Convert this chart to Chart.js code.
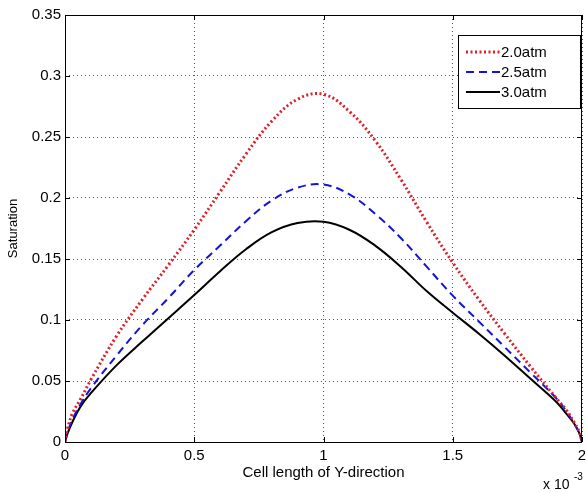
<!DOCTYPE html>
<html>
<head>
<meta charset="utf-8">
<script src="https://cdn.jsdelivr.net/npm/chart.js@4"></script>
<style>
  html, body { margin: 0; padding: 0; background: #fff; }
  #wrap { width: 586px; height: 493px; }
</style>
</head>
<body>
<div id="wrap"><canvas id="satChart" width="586" height="493"></canvas></div>
<script>
// x positions in units of 1e-3
const cellY = [0, 0.01, 0.03, 0.06, 0.1, 0.2, 0.3, 0.4, 0.5, 0.6, 0.7, 0.8, 0.9, 1.0,
               1.1, 1.2, 1.3, 1.4, 1.5, 1.6, 1.7, 1.8, 1.9, 1.94, 1.97, 1.99, 2.0];
const sat20 = [0, 0.011, 0.024, 0.035, 0.051, 0.087, 0.117, 0.145, 0.174, 0.205, 0.236, 0.263, 0.281, 0.285,
               0.271, 0.247, 0.215, 0.180, 0.147, 0.117, 0.089, 0.062, 0.036, 0.026, 0.016, 0.008, 0];
const sat25 = [0, 0.008, 0.019, 0.031, 0.044, 0.071, 0.096, 0.118, 0.141, 0.161, 0.181, 0.198, 0.2085, 0.211,
               0.203, 0.187, 0.167, 0.1435, 0.120, 0.099, 0.078, 0.057, 0.036, 0.025, 0.015, 0.007, 0];
const sat30 = [0, 0.007, 0.017, 0.029, 0.040, 0.063, 0.0825, 0.1015, 0.1205, 0.140, 0.158, 0.172, 0.1795, 0.1805,
               0.174, 0.161, 0.1435, 0.1235, 0.106, 0.089, 0.071, 0.052, 0.033, 0.023, 0.015, 0.007, 0];
const seriesLabels = ['2.0atm', '2.5atm', '3.0atm'];
const xTicks = [0, 0.5, 1, 1.5, 2];
const yTicks = [0, 0.05, 0.1, 0.15, 0.2, 0.25, 0.3, 0.35];

const FONT = 'Arial, "Liberation Sans", sans-serif';

function pts(ys) {
    return cellY.map((x, i) => ({ x: x, y: ys[i] }));
}

// frame, inward ticks, legend box and the "x 10^-3" multiplier
const matlabBits = {
    id: 'matlabBits',
    afterDraw(chart) {
        const ctx = chart.ctx;
        const a = chart.chartArea;
        const xs = chart.scales.x, ys = chart.scales.y;
        ctx.save();
        ctx.strokeStyle = '#000';
        ctx.lineWidth = 1;
        ctx.setLineDash([]);
        ctx.strokeRect(a.left + 0.5, a.top + 0.5, a.right - a.left - 1, a.bottom - a.top);
        ctx.beginPath();
        xTicks.forEach(v => {
            const px = Math.round(xs.getPixelForValue(v)) + 0.5;
            ctx.moveTo(px, a.bottom); ctx.lineTo(px, a.bottom - 5);
            ctx.moveTo(px, a.top); ctx.lineTo(px, a.top + 5);
        });
        yTicks.forEach(v => {
            const py = Math.round(ys.getPixelForValue(v)) + 0.5;
            ctx.moveTo(a.left, py); ctx.lineTo(a.left + 5, py);
            ctx.moveTo(a.right, py); ctx.lineTo(a.right - 5, py);
        });
        ctx.stroke();

        // legend
        const bx = 458, by = 35, bw = 122, bh = 73;
        ctx.fillStyle = '#fff';
        ctx.fillRect(bx, by, bw, bh);
        ctx.strokeRect(bx + 0.5, by + 0.5, bw, bh);
        chart.data.datasets.forEach((ds, i) => {
            const y = by + 17 + i * 20;
            ctx.beginPath();
            ctx.strokeStyle = ds.borderColor;
            ctx.lineWidth = ds.borderWidth;
            ctx.setLineDash(ds.borderDash || []);
            ctx.moveTo(466, y);
            ctx.lineTo(500, y);
            ctx.stroke();
            ctx.setLineDash([]);
            ctx.fillStyle = '#000';
            ctx.font = '15px ' + FONT;
            ctx.textBaseline = 'middle';
            ctx.textAlign = 'left';
            ctx.fillText(ds.label, 501, y + 1);
        });

        // exponent
        ctx.fillStyle = '#000';
        ctx.textBaseline = 'alphabetic';
        ctx.font = '14px ' + FONT;
        ctx.fillText('x 10', 543, 489);
        ctx.font = '10px ' + FONT;
        ctx.fillText('-3', 574, 480);
        ctx.restore();
    }
};

const ctx = document.getElementById('satChart').getContext('2d');
new Chart(ctx, {
    type: 'line',
    data: {
        datasets: [{
            label: seriesLabels[0],
            data: pts(sat20),
            borderColor: 'rgb(225,30,40)',
            borderWidth: 3,
            borderDash: [2, 2.5],
            pointRadius: 0,
            tension: 0.4
        }, {
            label: seriesLabels[1],
            data: pts(sat25),
            borderColor: 'rgb(20,20,215)',
            borderWidth: 2,
            borderDash: [8, 5],
            pointRadius: 0,
            tension: 0.4
        }, {
            label: seriesLabels[2],
            data: pts(sat30),
            borderColor: '#000',
            borderWidth: 2,
            pointRadius: 0,
            tension: 0.4
        }]
    },
    options: {
        responsive: false,
        animation: false,
        layout: { padding: { top: 15, right: 4, left: 0, bottom: 0 } },
        plugins: {
            legend: { display: false },
            tooltip: { enabled: false }
        },
        scales: {
            x: {
                type: 'linear',
                min: 0,
                max: 2,
                afterBuildTicks: s => { s.ticks = xTicks.map(v => ({ value: v })); },
                afterFit: s => { s.height = 51; s.paddingRight = 0; s.paddingLeft = 0; },
                grid: { color: '#555', lineWidth: 1, drawTicks: false },
                border: { display: false, dash: [1, 3] },
                ticks: {
                    color: '#000', font: { size: 15, family: FONT }, padding: 5, maxRotation: 0,
                    callback: v => String(v)
                },
                title: {
                    display: true,
                    text: 'Cell length of Y-direction',
                    color: '#000',
                    font: { size: 15, family: FONT },
                    padding: { top: 0, bottom: 11 }
                }
            },
            y: {
                min: 0,
                max: 0.35,
                afterBuildTicks: s => { s.ticks = yTicks.map(v => ({ value: v })); },
                afterFit: s => { s.width = 65; },
                grid: { color: '#555', lineWidth: 1, drawTicks: false },
                border: { display: false, dash: [1, 3] },
                ticks: {
                    color: '#000', font: { size: 15, family: FONT }, padding: 4,
                    callback: v => String(v)
                },
                title: {
                    display: true,
                    text: 'Saturation',
                    color: '#000',
                    font: { size: 13, family: FONT },
                    padding: { top: 6, bottom: 0 }
                }
            }
        }
    },
    plugins: [matlabBits]
});
</script>
</body>
</html>
